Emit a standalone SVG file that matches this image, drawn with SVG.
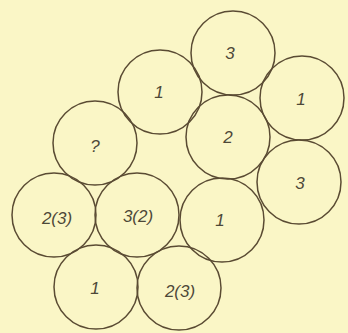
<svg xmlns="http://www.w3.org/2000/svg" width="348" height="333" viewBox="0 0 348 333">
<style>
  .c { fill: none; stroke: #5a4b33; stroke-width: 1.5; }
  .t { font-family: "Liberation Sans", Arial, sans-serif; font-style: italic; font-size: 17px; fill: #4d4838; text-anchor: middle; }
</style>
<rect width="348" height="333" fill="#faf6c6"/>
<g id="n3top"><circle class="c" cx="233" cy="53" r="42"/><text class="t" x="230" y="59">3</text></g>
<g id="n1ul"><circle class="c" cx="160" cy="92" r="42"/><text class="t" x="159" y="98">1</text></g>
<g id="n1r"><circle class="c" cx="302" cy="98" r="42"/><text class="t" x="301" y="105">1</text></g>
<g id="n2"><circle class="c" cx="228" cy="137" r="42"/><text class="t" x="228" y="143">2</text></g>
<g id="n3r"><circle class="c" cx="299" cy="182" r="42"/><text class="t" x="300" y="189">3</text></g>
<g id="nq"><circle class="c" cx="95" cy="143" r="42"/><text class="t" x="95" y="152">?</text></g>
<g id="n23l"><circle class="c" cx="54" cy="215" r="42"/><text class="t" x="57" y="224">2(3)</text></g>
<g id="n32"><circle class="c" cx="137" cy="215" r="42"/><text class="t" x="138" y="222">3(2)</text></g>
<g id="n1m"><circle class="c" cx="222" cy="220" r="42"/><text class="t" x="220" y="226">1</text></g>
<g id="n1b"><circle class="c" cx="96" cy="287" r="42"/><text class="t" x="95" y="294">1</text></g>
<g id="n23b"><circle class="c" cx="179" cy="288" r="42"/><text class="t" x="180" y="297">2(3)</text></g>
<g id="connectors"></g>
</svg>
